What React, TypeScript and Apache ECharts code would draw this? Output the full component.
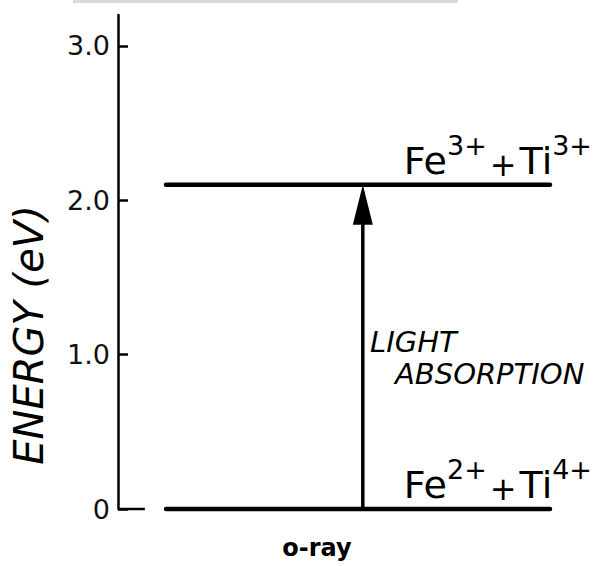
import { useEffect, useRef } from 'react';
import * as echarts from 'echarts';

// Energy axis (eV)
const yTickValues = [0, 1, 2, 3];
const yTickLabels = ['0', '1.0', '2.0', '3.0'];
const yMax = 3.2;

// Charge-transfer energy levels (eV) and the ion charges written beside them
const levelEnergies = [0, 2.1];
const levelFeCharge = ['2+', '3+'];
const levelTiCharge = ['4+', '3+'];
const levelSpan = [1, 9];

// Optical transition between the two levels
const transitionX = 5.1;
const transitionFrom = 0;
const transitionTo = 2.1;

// Short baseline stub at the foot of the energy axis
const baseStub = [0, 0.56];

const FONT = '"DejaVu Sans", sans-serif';

// Ion symbols sit on the line bottom, charges ride at the top as superscripts
const levelRich = {
  b: { fontSize: 38, lineHeight: 48, verticalAlign: 'bottom', fontFamily: FONT, color: '#000' },
  s: { fontSize: 27, lineHeight: 28, verticalAlign: 'top', fontFamily: FONT, color: '#000' },
  p: { fontSize: 32, height: 30, verticalAlign: 'bottom', padding: [0, 3, 0, 3], fontFamily: FONT, color: '#000' },
};

export default function App() {
  const ref = useRef<HTMLDivElement>(null);

  useEffect(() => {
    document.body.style.margin = '0';
    const chart = echarts.init(ref.current!, null, { renderer: 'svg' });

    const levelSeries = levelEnergies.map((e, i) => ({
      type: 'line',
      name: `level-${i}`,
      data: [
        [levelSpan[0], e],
        {
          value: [levelSpan[1], e],
          label: {
            show: true,
            formatter: `{b|Fe}{s|${levelFeCharge[i]}}{p|+}{b|Ti}{s|${levelTiCharge[i]}}`,
          },
        },
      ],
      symbol: 'circle',
      symbolSize: 0,
      showSymbol: true,
      clip: false,
      silent: true,
      lineStyle: { color: '#000', width: 4.5, cap: 'round' },
      itemStyle: { color: '#000' },
      label: {
        show: false,
        position: 'top',
        distance: 5,
        align: 'right',
        offset: [42, 0],
        rich: levelRich,
      },
      z: 3,
    }));

    chart.setOption({
      animation: false,
      backgroundColor: '#fff',
      grid: { left: 118, right: 1, top: 15, bottom: 57, containLabel: false, outerBoundsMode: 'none' },
      xAxis: { type: 'value', min: 0, max: 10, show: false },
      yAxis: {
        type: 'value',
        min: 0,
        max: yMax,
        interval: 1,
        axisLine: { show: true, lineStyle: { color: '#000', width: 2.5 } },
        axisTick: {
          show: true,
          inside: true,
          length: 10,
          customValues: yTickValues,
          lineStyle: { color: '#000', width: 2.5 },
        },
        axisLabel: {
          customValues: yTickValues,
          formatter: (v: number) => {
            const k = yTickValues.indexOf(v);
            return k >= 0 ? yTickLabels[k] : '';
          },
          fontSize: 27,
          fontFamily: FONT,
          color: '#111',
          margin: 8,
        },
        splitLine: { show: false },
      },
      series: [
        ...levelSeries,
        {
          type: 'line',
          name: 'stub',
          data: [
            [baseStub[0], 0],
            [baseStub[1], 0],
          ],
          symbol: 'none',
          clip: false,
          silent: true,
          lineStyle: { color: '#000', width: 2.5 },
        },
        {
          type: 'line',
          name: 'transition',
          data: [
            [transitionX, transitionFrom],
            [transitionX, transitionTo - 0.05],
          ],
          symbol: 'none',
          clip: false,
          silent: true,
          lineStyle: { color: '#000', width: 3.5 },
          z: 4,
        },
        {
          type: 'scatter',
          name: 'arrowhead',
          data: [[transitionX, transitionTo]],
          symbol: 'triangle',
          symbolSize: [20, 40],
          symbolOffset: [0, '50%'],
          clip: false,
          silent: true,
          itemStyle: { color: '#000', opacity: 1 },
          z: 5,
        },
      ],
      graphic: [
        {
          type: 'rect',
          shape: { x: 73, y: 0, width: 385, height: 3 },
          style: { fill: '#dadada' },
          silent: true,
        },
        {
          type: 'text',
          x: 29,
          y: 335,
          rotation: Math.PI / 2,
          style: {
            text: 'ENERGY (eV)',
            fontSize: 40,
            fontStyle: 'italic',
            fontFamily: FONT,
            fill: '#000',
            textAlign: 'center',
            textVerticalAlign: 'middle',
          },
        },
        {
          type: 'text',
          x: 370,
          y: 342,
          style: {
            text: 'LIGHT',
            fontSize: 29,
            fontStyle: 'italic',
            fontFamily: FONT,
            fill: '#000',
            textAlign: 'left',
            textVerticalAlign: 'middle',
          },
        },
        {
          type: 'text',
          x: 395,
          y: 374,
          style: {
            text: 'ABSORPTION',
            fontSize: 29,
            fontStyle: 'italic',
            fontFamily: FONT,
            fill: '#000',
            textAlign: 'left',
            textVerticalAlign: 'middle',
          },
        },
        {
          type: 'text',
          x: 317,
          y: 548,
          style: {
            text: 'o-ray',
            fontSize: 24,
            fontWeight: 'bold',
            fontFamily: FONT,
            fill: '#000',
            textAlign: 'center',
            textVerticalAlign: 'middle',
          },
        },
      ],
    });

    return () => chart.dispose();
  }, []);

  return <div ref={ref} style={{ width: 599, height: 566 }} />;
}
